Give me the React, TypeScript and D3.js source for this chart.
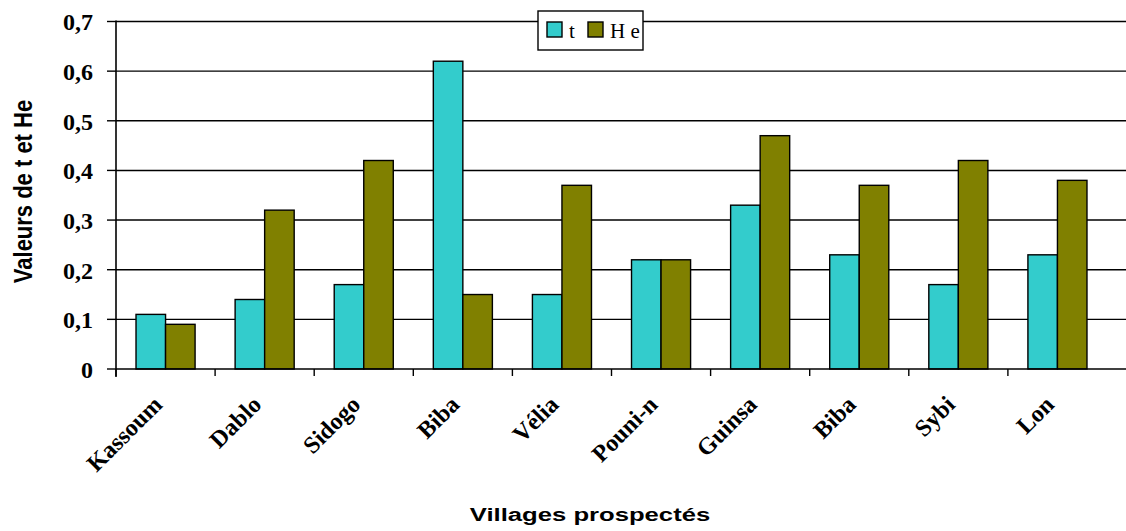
import React from "react";
import * as d3 from "d3";

const villages = ["Kassoum", "Dablo", "Sidogo", "Biba", "Vélia", "Pouni-n", "Guinsa", "Biba", "Sybi", "Lon"];
const tValues = [0.11, 0.14, 0.17, 0.62, 0.15, 0.22, 0.33, 0.23, 0.17, 0.23];
const heValues = [0.09, 0.32, 0.42, 0.15, 0.37, 0.22, 0.47, 0.37, 0.42, 0.38];
const yTicks = [0, 0.1, 0.2, 0.3, 0.4, 0.5, 0.6, 0.7];
const seriesNames = ["t", "H e"];
const seriesColors = ["#33CCCC", "#808000"];

const W = 1126;
const H = 531;
const left = 116;
const right = 1107;
const top = 21.5;
const bottom = 369;

export default function App() {
  const keys = villages.map((_, i) => String(i));
  const x = d3.scaleBand<string>().domain(keys).range([left, right]).paddingInner(0).paddingOuter(0);
  const y = d3.scaleLinear().domain([0, 0.7]).range([bottom, top]);
  const bw = x.bandwidth();
  const barW = bw * 0.298;
  const series = [tValues, heValues];
  const fmt = (v: number) => (v === 0 ? "0" : v.toFixed(1).replace(".", ","));
  const serif = "'Liberation Serif', 'Times New Roman', serif";
  const sans = "'Liberation Sans', Arial, sans-serif";

  return (
    <svg width={W} height={H} style={{ position: "absolute", left: 0, top: 0, background: "#fff" }}>
      {/* horizontal gridlines */}
      {yTicks.filter((v) => v > 0).map((v) => (
        <line key={"g" + v} x1={left} x2={W} y1={y(v)} y2={y(v)} stroke="#000" strokeWidth={1.4} />
      ))}
      {/* bars */}
      {keys.map((k, i) => {
        const cx = (x(k) as number) + bw / 2;
        return series.map((vals, s) => (
          <rect
            key={k + "-" + s}
            x={cx - barW + s * barW}
            y={y(vals[i])}
            width={barW}
            height={y(0) - y(vals[i])}
            fill={seriesColors[s]}
            stroke="#000"
            strokeWidth={1.4}
          />
        ));
      })}
      {/* x axis */}
      <line x1={left} x2={W} y1={bottom} y2={bottom} stroke="#000" strokeWidth={1.6} />
      {keys.map((k) => (
        <line key={"xt" + k} x1={x(k) as number} x2={x(k) as number} y1={bottom} y2={bottom + 7} stroke="#000" strokeWidth={1.4} />
      ))}
      {/* y axis */}
      <line x1={left} x2={left} y1={top - 1} y2={bottom + 8} stroke="#000" strokeWidth={1.6} />
      {yTicks.map((v) => (
        <g key={"yt" + v}>
          <line x1={left - 9} x2={left} y1={y(v)} y2={y(v)} stroke="#000" strokeWidth={1.4} />
          <text x={93} y={y(v)} dy="0.37em" textAnchor="end" fontFamily={serif} fontWeight="bold" fontSize={24}>
            {fmt(v)}
          </text>
        </g>
      ))}
      {/* category labels */}
      {keys.map((k, i) => {
        const cx = (x(k) as number) + bw / 2;
        return (
          <text
            key={"xl" + k}
            transform={`translate(${cx - 2},406) rotate(-45)`}
            textAnchor="end"
            fontFamily={serif}
            fontWeight="bold"
            fontSize={24}
          >
            {villages[i]}
          </text>
        );
      })}
      {/* axis titles */}
      <text
        transform={`translate(32,191.5) rotate(-90) scale(1,1.2)`}
        textAnchor="middle"
        fontFamily={sans}
        fontWeight="bold"
        fontSize={22}
      >
        Valeurs de t et He
      </text>
      <text
        transform={`translate(590,521) scale(1.35,1)`}
        textAnchor="middle"
        fontFamily={sans}
        fontWeight="bold"
        fontSize={19}
      >
        Villages prospectés
      </text>
      {/* legend */}
      <g>
        <rect x={538} y={11} width={105} height={39} fill="#fff" stroke="#000" strokeWidth={1.4} />
        {seriesNames.map((n, s) => {
          const lx = s === 0 ? 547 : 588;
          return (
            <g key={"lg" + s}>
              <rect x={lx} y={22} width={15} height={15} fill={seriesColors[s]} stroke="#000" strokeWidth={1.4} />
              <text x={lx + 22} y={38} fontFamily={serif} fontSize={21}>
                {n}
              </text>
            </g>
          );
        })}
      </g>
    </svg>
  );
}
